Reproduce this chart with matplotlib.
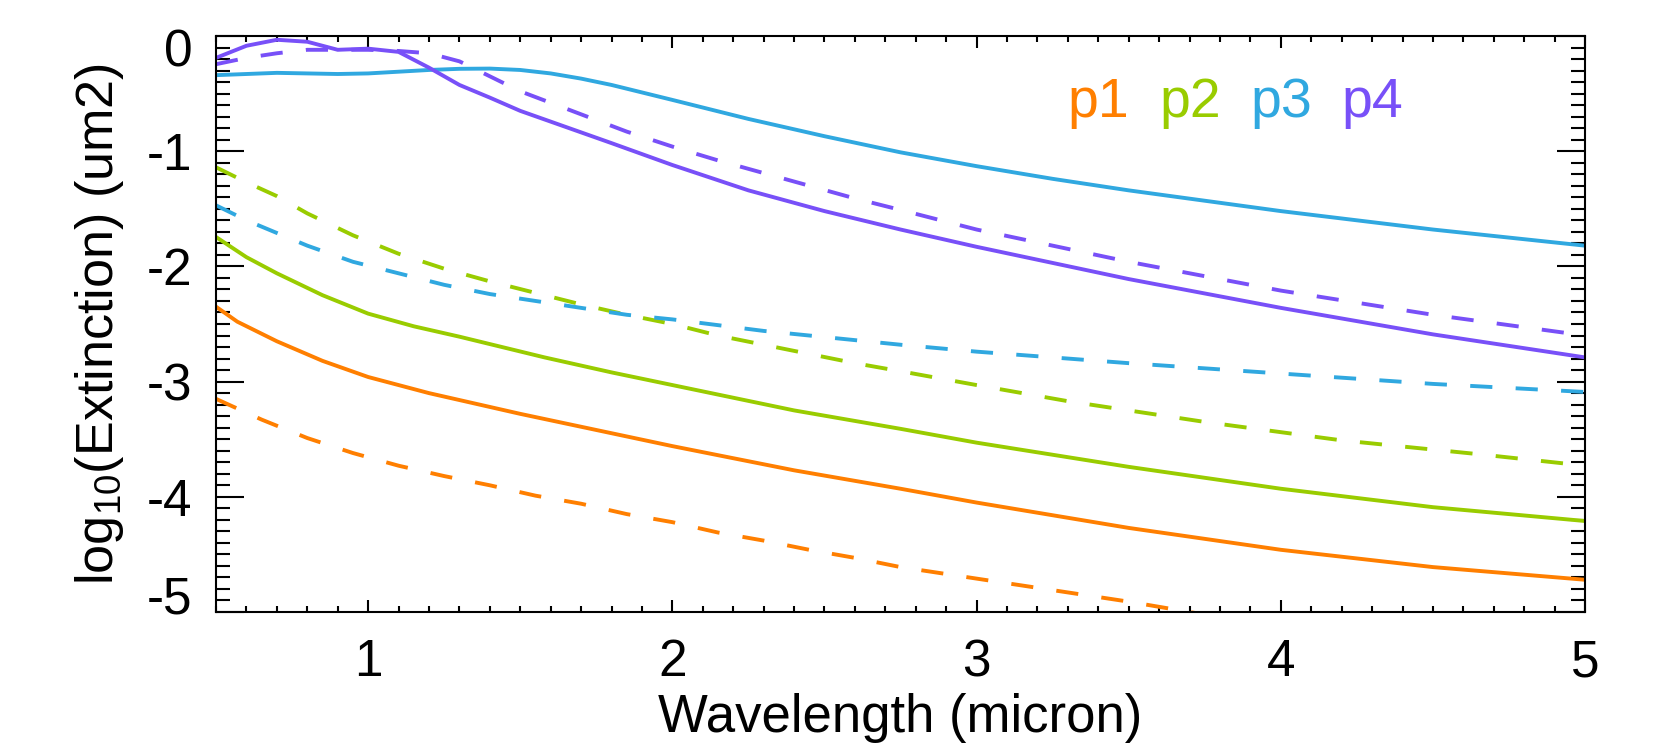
import matplotlib
matplotlib.use("Agg")
import matplotlib.pyplot as plt
from matplotlib.ticker import MultipleLocator
from matplotlib.transforms import ScaledTranslation

plt.rcParams['font.family'] = ['Liberation Sans', 'DejaVu Sans']
plt.rcParams['mathtext.default'] = 'regular'
plt.rcParams['axes.unicode_minus'] = False

# series: log10(extinction) vs wavelength (micron)
p1_x = [0.5, 0.57, 0.7, 0.85, 1.0, 1.2, 1.5, 1.75, 2.0, 2.4, 2.75, 3.0, 3.5, 4.0, 4.5, 5.0]
p1_y = [-2.35, -2.48, -2.65, -2.82, -2.96, -3.10, -3.28, -3.42, -3.56, -3.77, -3.93, -4.05, -4.27, -4.46, -4.61, -4.72]
p1d_x = [0.5, 0.65, 0.8, 0.95, 1.1, 1.25, 1.4, 1.55, 1.7, 1.85, 2.0, 2.15, 2.3, 2.45, 2.6, 2.75, 2.9, 3.1, 3.3, 3.5, 3.7, 3.9]
p1d_y = [-3.15, -3.33, -3.49, -3.62, -3.73, -3.82, -3.90, -3.99, -4.06, -4.15, -4.22, -4.31, -4.38, -4.46, -4.53, -4.61, -4.67, -4.75, -4.83, -4.91, -5.0, -5.09]

p2_x = [0.5, 0.6, 0.7, 0.85, 1.0, 1.15, 1.3, 1.58, 1.8, 2.0, 2.2, 2.4, 2.75, 3.0, 3.5, 4.0, 4.5, 5.0]
p2_y = [-1.745, -1.92, -2.06, -2.25, -2.41, -2.52, -2.61, -2.79, -2.92, -3.03, -3.14, -3.25, -3.41, -3.53, -3.74, -3.93, -4.09, -4.21]
p2d_x = [0.5, 0.6, 0.7, 0.8, 0.95, 1.1, 1.25, 1.4, 1.55, 1.7, 1.85, 2.0, 2.15, 2.3, 2.45, 2.6, 2.75, 3.0, 3.3, 3.75, 4.2, 4.65, 5.0]
p2d_y = [-1.14, -1.27, -1.39, -1.54, -1.73, -1.89, -2.02, -2.13, -2.23, -2.33, -2.42, -2.50, -2.60, -2.68, -2.76, -2.84, -2.91, -3.03, -3.17, -3.35, -3.51, -3.63, -3.73]

p3_x = [0.5, 0.7, 0.9, 1.0, 1.1, 1.2, 1.3, 1.4, 1.5, 1.6, 1.7, 1.8, 1.9, 2.0, 2.25, 2.5, 2.75, 3.0, 3.25, 3.5, 4.0, 4.5, 5.0]
p3_y = [-0.34, -0.32, -0.33, -0.325, -0.31, -0.295, -0.285, -0.283, -0.295, -0.325, -0.37, -0.425, -0.49, -0.555, -0.72, -0.87, -1.01, -1.13, -1.24, -1.34, -1.52, -1.68, -1.82]
p3d_x = [0.5, 0.6, 0.7, 0.8, 0.95, 1.1, 1.25, 1.4, 1.55, 1.7, 1.85, 2.0, 2.15, 2.3, 2.45, 2.6, 2.75, 3.0, 3.5, 4.0, 4.5, 5.0]
p3d_y = [-1.47, -1.60, -1.71, -1.82, -1.96, -2.06, -2.16, -2.24, -2.30, -2.36, -2.42, -2.46, -2.51, -2.56, -2.60, -2.64, -2.68, -2.74, -2.84, -2.93, -3.02, -3.09]

p4_x = [0.5, 0.6, 0.7, 0.8, 0.9, 1.0, 1.1, 1.2, 1.3, 1.4, 1.5, 1.65, 1.8, 2.0, 2.25, 2.5, 2.75, 3.0, 3.5, 4.0, 4.5, 5.0]
p4_y = [-0.19, -0.085, -0.033, -0.05, -0.12, -0.11, -0.138, -0.275, -0.425, -0.535, -0.65, -0.79, -0.93, -1.12, -1.34, -1.52, -1.68, -1.83, -2.11, -2.36, -2.59, -2.79]
p4d_x = [0.5, 0.6, 0.7, 0.8, 0.9, 1.0, 1.1, 1.2, 1.3, 1.4, 1.5, 1.6, 1.7, 1.85, 2.0, 2.15, 2.3, 2.45, 2.6, 2.75, 3.0, 3.5, 4.0, 4.5, 5.0]
p4d_y = [-0.245, -0.19, -0.15, -0.12, -0.12, -0.12, -0.13, -0.15, -0.22, -0.35, -0.48, -0.58, -0.68, -0.83, -0.96, -1.08, -1.19, -1.30, -1.41, -1.51, -1.68, -1.96, -2.21, -2.42, -2.60]

names = ['p1', 'p2', 'p3', 'p4']
colors = ['#FF7F00', '#99CC00', '#30A8E0', '#7850F8']
label_x = [3.3, 3.6, 3.9, 4.2]
label_y = -0.70

solid = [(p1_x, p1_y), (p2_x, p2_y), (p3_x, p3_y), (p4_x, p4_y)]
dashed = [(p1d_x, p1d_y), (p2d_x, p2d_y), (p3d_x, p3d_y), (p4d_x, p4d_y)]

fig = plt.figure(figsize=(16.58, 7.45), dpi=100)
ax = fig.add_axes([0.1303, 0.1785, 0.8257, 0.7732])

for (xs, ys), (xd, yd), c in zip(solid, dashed, colors):
    ax.plot(xs, ys, color=c, lw=2.8, solid_joinstyle='round')
    ax.plot(xd, yd, color=c, lw=2.8, dashes=(5.7, 6.0), dash_capstyle='butt')

for n, c, lx in zip(names, colors, label_x):
    ax.text(lx, label_y, n, color=c, fontsize=40, ha='left', va='baseline')

ax.set_xlim(0.5, 5.0)
ax.set_ylim(-5.0, 0.0)
ax.xaxis.set_major_locator(MultipleLocator(1))
ax.xaxis.set_minor_locator(MultipleLocator(0.1))
ax.yaxis.set_major_locator(MultipleLocator(1))
ax.yaxis.set_minor_locator(MultipleLocator(0.1))

for sp in ax.spines.values():
    sp.set_linewidth(1.5)
ax.tick_params(axis='both', which='both', direction='in', top=True, right=True, width=1.5)
ax.tick_params(axis='x', which='major', length=8.5, pad=19, labelsize=37)
ax.tick_params(axis='x', which='minor', length=4.3)
ax.tick_params(axis='y', which='major', length=20, pad=17, labelsize=37)
ax.tick_params(axis='y', which='minor', length=10)

ax.set_xlabel('Wavelength (micron)', fontsize=38, va='baseline')
ax.xaxis.set_label_coords(0.5, -0.2083)
ax.set_ylabel('log$_{10}$(Extinction) (um2)', fontsize=37.5, va='baseline', rotation_mode='anchor')
ax.yaxis.set_label_coords(-0.0752, 0.5)

fig.canvas.draw()
for lab in ax.get_yticklabels():
    t = lab.get_text().replace('\u2212', '-')
    if t == '0':
        lab.set_transform(lab.get_transform() + ScaledTranslation(0, -0.12, fig.dpi_scale_trans))
    elif t == '-5':
        lab.set_transform(lab.get_transform() + ScaledTranslation(0, 0.18, fig.dpi_scale_trans))

fig.savefig('out.png', dpi=100)
